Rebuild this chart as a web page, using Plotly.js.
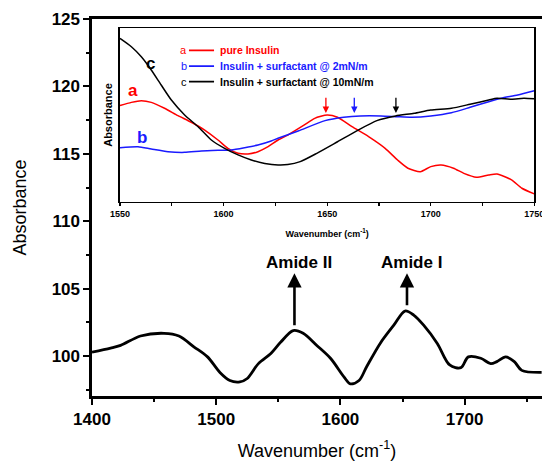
<!DOCTYPE html>
<html>
<head>
<meta charset="utf-8">
<script src="https://cdn.plot.ly/plotly-3.0.1.min.js"></script>
<style>html,body{margin:0;padding:0;background:#fff;overflow:hidden}#chart{width:542px;height:461px}</style>
</head>
<body>
<div id="chart"></div>
<script>
// Main spectrum (pure insulin, full range)
const mainX = [1400,1415,1423,1439,1458,1470,1482,1493,1503,1511,1519,1525,1534,1544,1552,1562,1570,1581,1592,1603,1608,1615,1621,1632,1643,1652,1659,1667,1678,1688,1697,1703,1713,1721,1726,1733,1740,1746,1762];
const mainY = [100.3,100.6,100.8,101.5,101.7,101.5,100.7,99.95,98.8,98.2,98.1,98.35,99.45,100.2,101.05,101.9,101.7,100.8,99.85,98.45,97.95,98.2,99.2,100.95,102.3,103.35,103.05,102.3,100.95,99.35,99.15,99.95,99.85,99.45,99.6,99.95,99.6,98.95,98.8];

// Inset series (arbitrary absorbance units)
const redX = [1550,1555.5,1560.3,1565.1,1571.5,1578,1584.4,1590.9,1597.3,1602.1,1607,1611.8,1616.6,1621.5,1626.3,1631,1639,1644,1650,1655,1662,1670,1678,1684,1689,1695,1700,1705,1711,1716,1722,1728,1732,1739,1744,1750];
const redY = [118.6,118.84,118.96,118.84,118.4,117.85,117.36,116.78,116.04,115.42,115.05,115.0,115.17,115.54,116.04,116.41,117.16,117.65,117.9,117.73,117.03,116.29,115.42,114.55,113.94,113.68,114.06,114.18,113.94,113.56,113.27,113.44,113.51,113.07,112.45,112.03];
const blueX = [1550,1558.7,1565.1,1573.2,1581.2,1589.3,1597.3,1603.7,1610.2,1616.6,1623,1626.3,1636,1649,1658,1666,1676,1684,1691,1700,1710,1719,1728,1734,1742,1750];
const blueY = [115.47,115.54,115.37,115.17,115.12,115.22,115.27,115.3,115.47,115.67,115.97,116.17,116.71,117.48,117.73,117.83,117.83,117.77,117.73,117.83,118.07,118.47,118.89,119.14,119.39,119.71];
const blackX = [1550,1555.5,1560.3,1565.1,1569.9,1574.8,1581.2,1587.7,1594.1,1600.5,1607,1613.4,1619.9,1626.3,1631,1637,1645,1655,1665,1674,1683,1692,1700,1710,1719,1728,1732,1739,1745,1750];
const blackY = [123.6,122.98,122.23,121.25,120.13,119.01,117.9,117.03,116.04,115.42,114.93,114.55,114.3,114.18,114.21,114.43,115.05,115.91,116.78,117.48,117.83,118.03,118.27,118.4,118.7,119.01,119.14,119.07,119.14,119.1];

const seriesNames = ['pure Insulin','Insulin + surfactant @ 2mN/m','Insulin + surfactant @ 10mN/m'];
const seriesLetters = ['a','b','c'];
const seriesColors = ['#ff0000','#1a1aff','#000000'];
const peakArrowX = [1649.4,1663.1,1683.2];   // marked peak positions in inset
const amideLabels = ['Amide II','Amide I'];
const amideX = [1563,1653.6];
const amideTail = [102.18,103.67];

const FONT = 'Liberation Sans, Arial, Helvetica, sans-serif';

const traces = [
  {x: mainX, y: mainY, xaxis:'x', yaxis:'y', mode:'lines', line:{color:'#000', width:2.8, shape:'spline', smoothing:0.9}, showlegend:false, hoverinfo:'skip'},
  {x: redX, y: redY, xaxis:'x2', yaxis:'y2', mode:'lines', name: seriesNames[0], line:{color:seriesColors[0], width:1.5, shape:'spline', smoothing:0.6}, showlegend:false},
  {x: blueX, y: blueY, xaxis:'x2', yaxis:'y2', mode:'lines', name: seriesNames[1], line:{color:seriesColors[1], width:1.5, shape:'spline', smoothing:0.6}, showlegend:false},
  {x: blackX, y: blackY, xaxis:'x2', yaxis:'y2', mode:'lines', name: seriesNames[2], line:{color:seriesColors[2], width:1.5, shape:'spline', smoothing:0.6}, showlegend:false}
];

const annotations = [];
const shapes = [];

// Amide arrows + labels (main plot)
for (let i = 0; i < 2; i++) {
  annotations.push({x: amideX[i], y: 106.15, ax: amideX[i], ay: amideTail[i], xref:'x', yref:'y', axref:'x', ayref:'y',
    text:'', showarrow:true, arrowhead:2, arrowsize:1.1, arrowwidth:2.6, arrowcolor:'#000'});
  annotations.push({x: amideX[i] + 4, y: 106.95, xref:'x', yref:'y', text: amideLabels[i], showarrow:false,
    font:{family:FONT, size:17, weight:'bold', color:'#000'}});
}

// Inset peak arrows
for (let i = 0; i < 3; i++) {
  annotations.push({x: peakArrowX[i], y: 118.05, ax: peakArrowX[i], ay: 119.3, xref:'x2', yref:'y2', axref:'x2', ayref:'y2',
    text:'', showarrow:true, arrowhead:2, arrowsize:1, arrowwidth:1.3, arrowcolor: seriesColors[i]});
}

// Curve letters in the inset
const letterPos = [[1556.3,119.75],[1560.6,116.2],[1564.5,121.75]];
for (let i = 0; i < 3; i++) {
  annotations.push({x: letterPos[i][0], y: letterPos[i][1], xref:'x2', yref:'y2', text: seriesLetters[i], showarrow:false,
    font:{family:FONT, size:17, weight:'bold', color: seriesColors[i]}});
}

// Inset legend
const legRows = [122.71,121.54,120.38];
for (let i = 0; i < 3; i++) {
  annotations.push({x: 1580.7, y: legRows[i], xref:'x2', yref:'y2', text: seriesLetters[i], showarrow:false,
    font:{family:FONT, size:11, color: seriesColors[i]}});
  shapes.push({type:'line', xref:'x2', yref:'y2', x0:1583.3, x1:1595.4, y0:legRows[i], y1:legRows[i],
    line:{color: seriesColors[i], width:1.6}});
  annotations.push({x: 1597.2, y: legRows[i], xref:'x2', yref:'y2', xanchor:'left', text: seriesNames[i], showarrow:false,
    font:{family:FONT, size:10.5, weight:'bold', color: seriesColors[i]}});
}

const layout = {
  width: 542, height: 461,
  margin: {l:92, r:0, t:19, b:65, pad:0},
  paper_bgcolor:'#fff', plot_bgcolor:'#fff',
  font: {family: FONT, color:'#000'},
  showlegend: false,
  xaxis: {
    range:[1400, 1762.3], showline:true, linewidth:2.6, linecolor:'#000', mirror:true,
    ticks:'outside', ticklen:6, tickwidth:2, tickcolor:'#000', tick0:1400, dtick:100,
    minor:{dtick:50, ticks:'outside', ticklen:3.5, tickwidth:2, tickcolor:'#000'},
    showgrid:false, zeroline:false,
    tickfont:{family:FONT, size:17, weight:'bold'},
    title:{text:'Wavenumber (cm<sup>-1</sup>)', font:{family:FONT, size:18}, standoff:18}
  },
  yaxis: {
    range:[97.05, 125], showline:true, linewidth:2.6, linecolor:'#000', mirror:false,
    ticks:'outside', ticklen:6, tickwidth:2, tickcolor:'#000', tick0:100, dtick:5,
    minor:{dtick:2.5, ticks:'outside', ticklen:3.5, tickwidth:2, tickcolor:'#000'},
    showgrid:false, zeroline:false,
    tickfont:{family:FONT, size:17, weight:'bold'},
    title:{text:'Absorbance', font:{family:FONT, size:18}, standoff:21}
  },
  xaxis2: {
    domain:[0.0622, 0.9829], anchor:'y2', range:[1550,1750],
    showline:true, linewidth:1.6, linecolor:'#000', mirror:true,
    ticks:'outside', ticklen:3, tickwidth:1.2, tickcolor:'#000', tick0:1550, dtick:50,
    minor:{dtick:25, ticks:'outside', ticklen:3, tickwidth:1.2, tickcolor:'#000'},
    showgrid:false, zeroline:false, ticklabeloverflow:'allow',
    tickfont:{family:FONT, size:9, weight:'bold'},
    title:{text:'Wavenumber (cm<sup>-1</sup>)', font:{family:FONT, size:9, weight:'bold'}, standoff:12}
  },
  yaxis2: {
    domain:[0.5154, 0.9753], anchor:'x2', range:[111.45, 124.35],
    showline:true, linewidth:1.6, linecolor:'#000', mirror:true,
    ticks:'', showticklabels:false, showgrid:false, zeroline:false,
    title:{text:'Absorbance', font:{family:FONT, size:11, weight:'bold'}, standoff:3}
  },
  annotations: annotations,
  shapes: shapes
};

Plotly.newPlot('chart', traces, layout, {displayModeBar:false, staticPlot:true});
</script>
</body>
</html>
